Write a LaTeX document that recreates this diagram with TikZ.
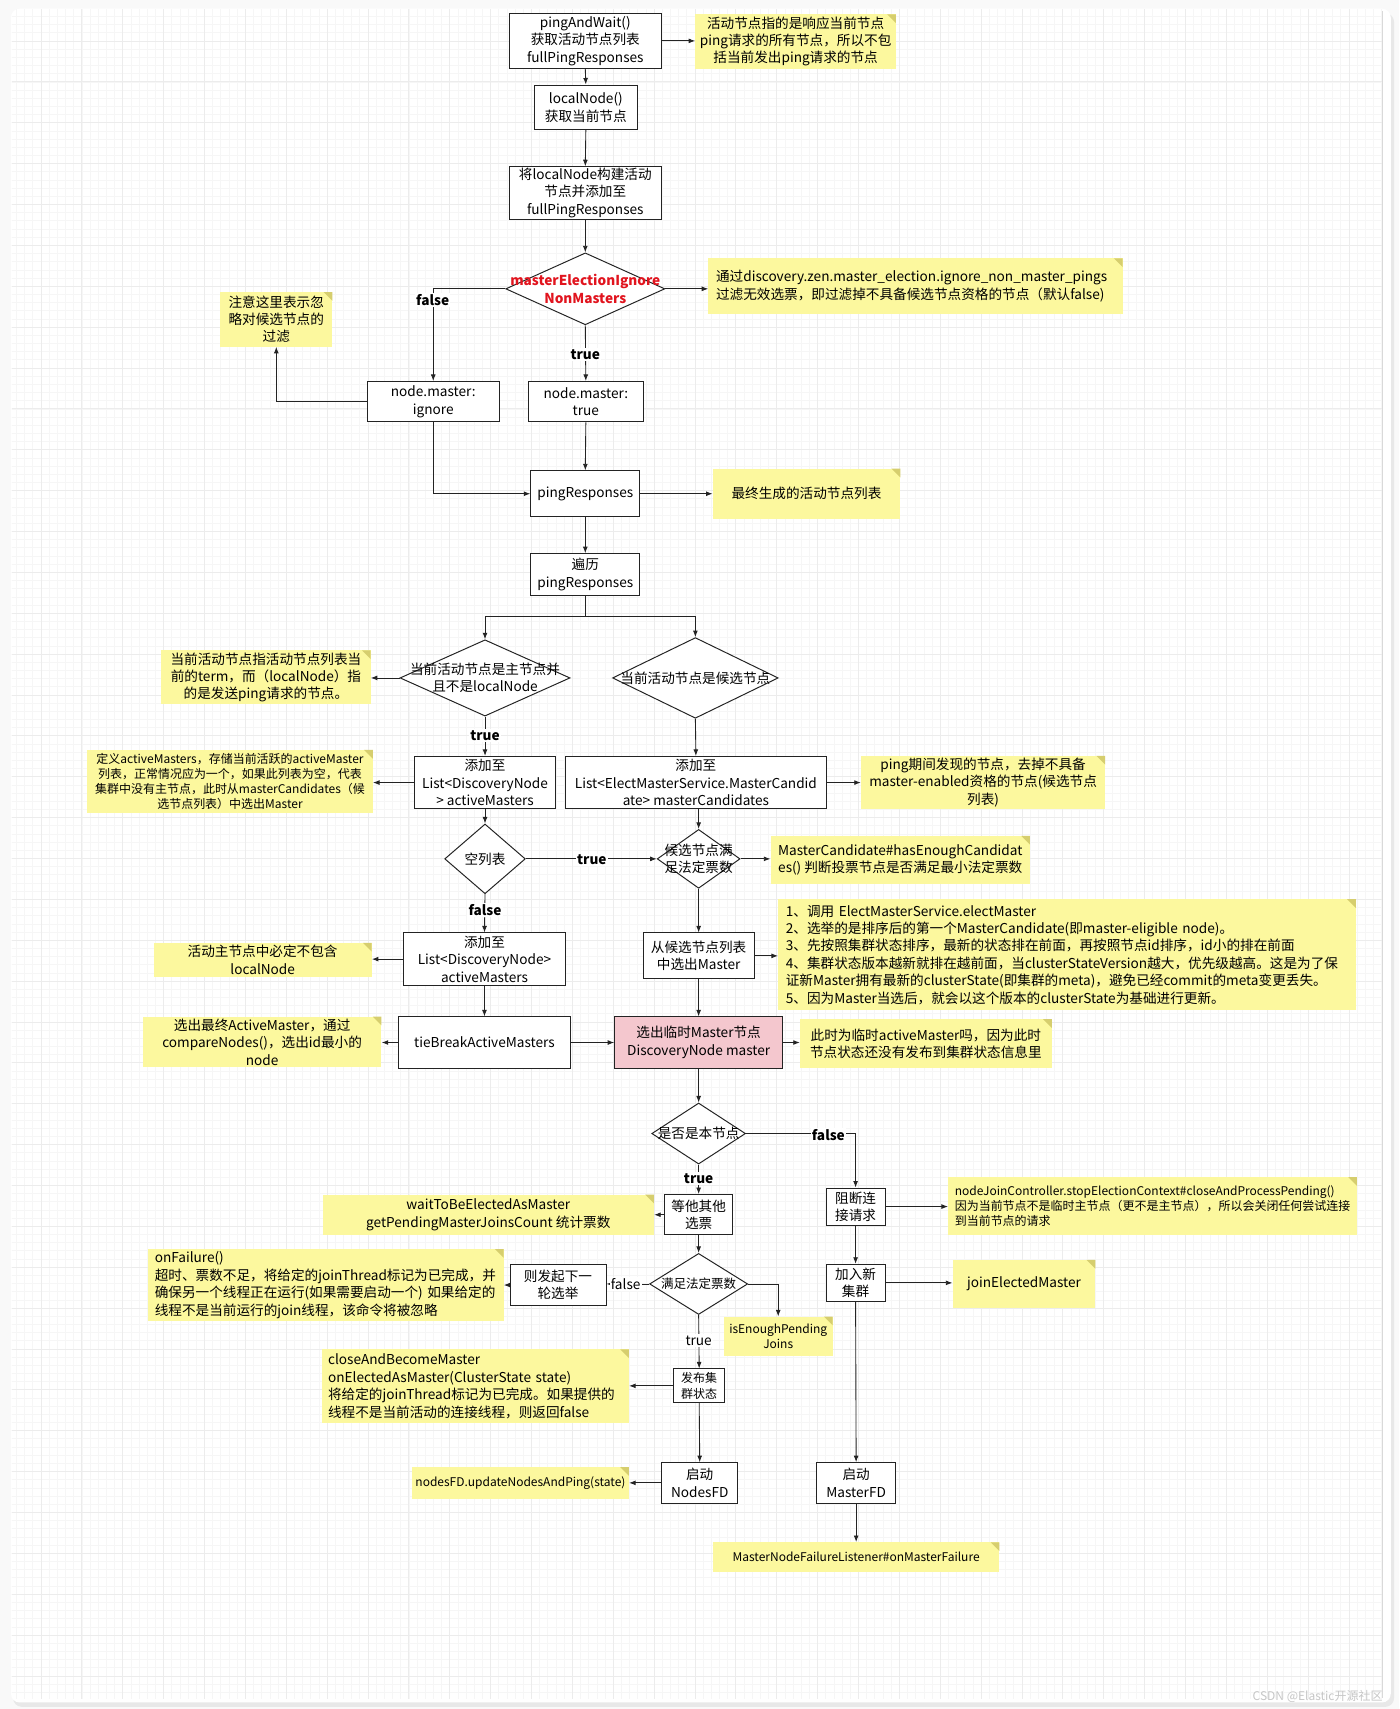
\documentclass[tikz,border=0pt]{standalone}
\usepackage{fontspec}
\setmainfont{Noto Sans CJK SC}
\usetikzlibrary{arrows.meta,shapes.geometric,calc}
\definecolor{noteY}{RGB}{252,248,158}
\definecolor{foldY}{RGB}{214,206,110}
\definecolor{pinkF}{RGB}{244,199,206}
\definecolor{redT}{RGB}{225,20,30}
\definecolor{lineC}{RGB}{35,35,35}
\newcommand\fa{\fontsize{12.5}{16}\selectfont}
\newcommand\fb{\fontsize{11}{14}\selectfont}
\tikzset{
  box/.style={draw=lineC, line width=0.9pt, fill=white, align=center, font=\fa, inner sep=1pt},
  note/.style={fill=noteY, align=center, font=\fa, inner sep=2pt,
    path picture={\fill[foldY] ([xshift=-8pt]path picture bounding box.north east) -- (path picture bounding box.north east) -- ([yshift=-8pt]path picture bounding box.north east) -- cycle;}},
  dia/.style={draw=lineC, line width=0.9pt, fill=white, diamond, inner sep=0pt},
  dtext/.style={font=\fa, align=center, inner sep=0pt},
  arr/.style={-{Latex[length=6pt,width=4.5pt]}, line width=0.8pt, draw=lineC},
  ln/.style={line width=0.8pt, draw=lineC},
  lab/.style={fill=white, inner sep=1.2pt, font=\fontsize{12.5}{14}\selectfont\bfseries},
  labn/.style={fill=white, inner sep=1.2pt, font=\fontsize{12.5}{14}\selectfont},
}
\begin{document}
\begin{tikzpicture}[x=1pt,y=-1pt]
\useasboundingbox (0,0) rectangle (1284,1568);
% background card
\fill[gray!5] (0,0) rectangle (1284,1568);
\fill[gray!18, rounded corners=8pt] (12,12) rectangle (1279,1566);
\fill[white, rounded corners=8pt] (10,8) rectangle (1276,1562);
\begin{scope}
\clip (11,9) rectangle (1268,1558);
\draw[gray!7, line width=0.4pt, step=7.5pt] (10,8) grid (1276,1562);
\draw[gray!15, line width=0.5pt, step=37.5pt] (10,8) grid (1276,1562);
\end{scope}
\draw[gray!30, line width=0.6pt] (1268,10) -- (1268,1558);

% ---------- nodes ----------
\node[box, minimum width=140pt, minimum height=51pt] (b1) at (537,37.5) {pingAndWait()\\获取活动节点列表\\fullPingResponses};
\node[note, minimum width=184pt, minimum height=48pt] (n1) at (730,38) {活动节点指的是响应当前节点\\ping请求的所有节点，所以不包\\括当前发出ping请求的节点};
\node[box, minimum width=95pt, minimum height=41pt] (b2) at (537.5,98.5) {localNode()\\获取当前节点};
\node[box, minimum width=140pt, minimum height=48pt] (b3) at (537,177) {将localNode构建活动\\节点并添加至\\fullPingResponses};
\node[dia, minimum width=146pt, minimum height=66pt] (d1) at (537,265) {};
\node[dtext, text=redT, font=\fa\bfseries] (d1t) at (537,265) {masterElectionIgnore\\NonMasters};
\node[note, minimum width=380pt, minimum height=51pt, text width=366pt, align=left] (n2) at (840,262.5) {通过discovery.zen.master\_election.ignore\_non\_master\_pings\\过滤无效选票，即过滤掉不具备候选节点资格的节点（默认false)};
\node[note, minimum width=103pt, minimum height=50pt] (n3) at (253.5,293) {注意这里表示忽\\略对候选节点的\\过滤};
\node[box, minimum width=121pt, minimum height=37pt] (b4) at (397.5,368.5) {node.master:\\ignore};
\node[box, minimum width=105pt, minimum height=37pt] (b5) at (537.5,368.5) {node.master:\\true};
\node[box, minimum width=100pt, minimum height=42pt] (b6) at (537,453) {pingResponses};
\node[note, minimum width=172pt, minimum height=46pt] (n4) at (740,453) {最终生成的活动节点列表};
\node[box, minimum width=100pt, minimum height=38pt] (b7) at (537,527) {遍历\\pingResponses};
\node[dia, minimum width=156pt, minimum height=70pt] (d2) at (445,622) {};
\node[dtext] (d2t) at (445,622) {当前活动节点是主节点并\\且不是localNode};
\node[dia, minimum width=152pt, minimum height=74pt] (d3) at (638,622) {};
\node[dtext] (d3t) at (638,622) {当前活动节点是候选节点};
\node[note, minimum width=192pt, minimum height=49pt] (n5) at (244,621.5) {当前活动节点指活动节点列表当\\前的term，而（localNode）指\\的是发送ping请求的节点。};
\node[box, minimum width=130pt, minimum height=48pt] (b8) at (445,718) {添加至\\List<DiscoveryNode\\> activeMasters};
\node[box, minimum width=239pt, minimum height=48pt] (b9) at (638.5,718) {添加至\\List<ElectMasterService.MasterCandid\\ate> masterCandidates};
\node[note, font=\fb, minimum width=262pt, minimum height=58pt] (n6) at (211,717) {定义activeMasters，存储当前活跃的activeMaster\\列表，正常情况应为一个，如果此列表为空，代表\\集群中没有主节点，此时从masterCandidates（候\\选节点列表）中选出Master};
\node[note, minimum width=224pt, minimum height=48pt] (n7) at (902,718) {ping期间发现的节点，去掉不具备\\master-enabled资格的节点(候选节点\\列表)};
\node[dia, minimum width=74pt, minimum height=64pt] (d4) at (445,788) {};
\node[dtext] (d4t) at (445,788) {空列表};
\node[dia, minimum width=76pt, minimum height=54pt] (d5) at (641,788) {};
\node[dtext] (d5t) at (641,788) {候选节点满\\足法定票数};
\node[note, minimum width=238pt, minimum height=44pt] (n8) at (826,789) {MasterCandidate\#hasEnoughCandidat\\es() 判断投票节点是否满足最小法定票数};
\node[box, minimum width=149pt, minimum height=48pt] (b10) at (444.5,880) {添加至\\List<DiscoveryNode>\\activeMasters};
\node[note, minimum width=200pt, minimum height=31pt] (n9) at (241,880.5) {活动主节点中必定不包含\\localNode};
\node[box, minimum width=102pt, minimum height=42pt] (b11) at (641,877) {从候选节点列表\\中选出Master};
\node[note, minimum width=530pt, minimum height=102pt, text width=516pt, align=left] (n10) at (979,876) {1、调用 ElectMasterService.electMaster\\2、选举的是排序后的第一个MasterCandidate(即master-eligible node)。\\3、先按照集群状态排序，最新的状态排在前面，再按照节点id排序，id小的排在前面\\4、集群状态版本越新就排在越前面，当clusterStateVersion越大，优先级越高。这是为了保\\证新Master拥有最新的clusterState(即集群的meta)，避免已经commit的meta变更丢失。\\5、因为Master当选后，就会以这个版本的clusterState为基础进行更新。};
\node[box, minimum width=157pt, minimum height=47pt] (b12) at (444.5,956.5) {tieBreakActiveMasters};
\node[note, minimum width=219pt, minimum height=46pt] (n11) at (240.5,956) {选出最终ActiveMaster，通过\\compareNodes()，选出id最小的\\node};
\node[box, fill=pinkF, minimum width=154pt, minimum height=47pt] (b13) at (641,956.5) {选出临时Master节点\\DiscoveryNode master};
\node[note, minimum width=231pt, minimum height=45pt] (n12) at (849.5,957.5) {此时为临时activeMaster吗，因为此时\\节点状态还没有发布到集群状态信息里};
\node[dia, minimum width=86pt, minimum height=56pt] (d6) at (641,1040) {};
\node[dtext] (d6t) at (641,1040) {是否是本节点};
\node[box, minimum width=54pt, minimum height=34pt] (b14) at (785,1107) {阻断连\\接请求};
\node[note, font=\fb, minimum width=375pt, minimum height=53pt, text width=363pt, align=left] (n13) at (1057.5,1106.5) {nodeJoinController.stopElectionContext\#closeAndProcessPending()\\因为当前节点不是临时主节点（更不是主节点），所以会关闭任何尝试连接\\到当前节点的请求};
\node[box, minimum width=54pt, minimum height=34pt] (b15) at (785,1177) {加入新\\集群};
\node[note, minimum width=131pt, minimum height=44pt] (n14) at (939.5,1178) {joinElectedMaster};
\node[box, minimum width=73pt, minimum height=37pt] (b16) at (785.5,1360.5) {启动\\MasterFD};
\node[note, font=\fb, minimum width=263pt, minimum height=27pt] (n15) at (785.5,1428.5) {MasterNodeFailureListener\#onMasterFailure};
\node[box, minimum width=62pt, minimum height=37pt] (b17) at (641,1114.5) {等他其他\\选票};
\node[note, minimum width=304pt, minimum height=37pt] (n16) at (448,1114.5) {waitToBeElectedAsMaster\\getPendingMasterJoinsCount 统计票数};
\node[dia, minimum width=90pt, minimum height=56pt] (d7) at (641,1178) {};
\node[dtext, font=\fontsize{11.5}{14}\selectfont] (d7t) at (641,1178) {满足法定票数};
\node[box, minimum width=88pt, minimum height=38pt] (b18) at (512,1179) {则发起下一\\轮选举};
\node[note, minimum width=326pt, minimum height=66pt, text width=314pt, align=left] (n17) at (299,1179) {onFailure()\\超时、票数不足，将给定的joinThread标记为已完成，并\\确保另一个线程正在运行(如果需要启动一个) 如果给定的\\线程不是当前运行的join线程，该命令将被忽略};
\node[note, font=\fb, minimum width=100pt, minimum height=36pt] (n18) at (714,1226) {isEnoughPending\\Joins};
\node[box, font=\fb, minimum width=47pt, minimum height=31pt] (b19) at (641.5,1271.5) {发布集\\群状态};
\node[note, minimum width=282pt, minimum height=68pt, text width=270pt, align=left] (n19) at (436,1272) {closeAndBecomeMaster\\onElectedAsMaster(ClusterState state)\\将给定的joinThread标记为已完成。如果提供的\\线程不是当前活动的连接线程，则返回false};
\node[box, minimum width=70pt, minimum height=37pt] (b20) at (642,1360.5) {启动\\NodesFD};
\node[note, font=\fb, minimum width=199pt, minimum height=29pt] (n20) at (477.5,1360.5) {nodesFD.updateNodesAndPing(state)};
\node[text=gray!45, font=\fb, anchor=south east] (wm) at (1272,1566) {CSDN @Elastic开源社区};

% ---------- connectors ----------
\draw[arr] (b1.east) -- (b1.east -| n1.west);
\draw[arr] (b1.south) -- (b2.north);
\draw[arr] (b2.south) -- (b3.north);
\draw[arr] (b3.south) -- (d1.north);
\draw[arr] (d1.east) -- (d1.east -| n2.west);
\draw[arr] (d1.west) -| (b4.north);
\node[lab] (lf1) at (397,275) {false};
\draw[arr] (d1.south) -- (b5.north);
\node[lab] (lt1) at (537,325) {true};
\draw[arr] (b4.west) -| (n3.south);
\draw[arr] (b5.south) -- (b6.north);
\draw[arr] (b4.south) |- (b6.west);
\draw[arr] (b6.east) -- (n4.west);
\draw[arr] (b6.south) -- (b7.north);
\coordinate (sp) at (537,566);
\draw[ln] (b7.south) -- (sp);
\draw[arr] (sp) -| (d2.north);
\draw[arr] (sp) -| (d3.north);
\draw[arr] (d2.west) -- (d2.west -| n5.east);
\draw[arr] (d2.south) -- (b8.north);
\node[lab] (lt2) at (445,675) {true};
\draw[arr] (d3.south) -- (b9.north);
\draw[arr] (b8.west) -- (b8.west -| n6.east);
\draw[arr] (b9.east) -- (b9.east -| n7.west);
\draw[arr] (b8.south) -- (d4.north);
\draw[arr] (d5.north |- b9.south) -- (d5.north);
\draw[arr] (d4.east) -- (d5.west);
\node[lab] (lt3) at (543,789) {true};
\draw[arr] (d5.east) -- (d5.east -| n8.west);
\draw[arr] (d4.south) -- (b10.north);
\node[lab] (lf2) at (445,835) {false};
\draw[arr] (b10.west) -- (b10.west -| n9.east);
\draw[arr] (d5.south) -- (b11.north);
\draw[arr] (b11.east) -- (b11.east -| n10.west);
\draw[arr] (b10.south) -- (b12.north);
\draw[arr] (b12.west) -- (b12.west -| n11.east);
\draw[arr] (b12.east) -- (b13.west);
\draw[arr] (b11.south) -- (b13.north);
\draw[arr] (b13.east) -- (b13.east -| n12.west);
\draw[arr] (b13.south) -- (d6.north);
\draw[arr] (d6.east) -| (b14.north);
\node[lab] (lf3) at (760,1041) {false};
\draw[arr] (d6.south) -- (b17.north);
\node[lab] (lt4) at (641,1081) {true};
\draw[arr] (b14.east) -- (b14.east -| n13.west);
\draw[arr] (b14.south) -- (b15.north);
\draw[arr] (b15.east) -- (b15.east -| n14.west);
\draw[arr] (b15.south) -- (b16.north);
\draw[arr] (b16.south) -- (n15.north);
\draw[arr] (b17.west) -- (b17.west -| n16.east);
\draw[arr] (b17.south) -- (d7.north);
\draw[arr] (d7.west) -- (d7.west -| b18.east);
\node[labn] (lf4) at (574,1178) {false};
\draw[arr] (b18.west) -- (b18.west -| n17.east);
\draw[arr] (d7.east) -| (n18.north);
\draw[arr] (d7.south) -- (b19.north);
\node[labn] (lt5) at (641,1230) {true};
\draw[arr] (b19.west) -- (b19.west -| n19.east);
\draw[arr] (b19.south) -- (b20.north);
\draw[arr] (b20.west) -- (b20.west -| n20.east);
\end{tikzpicture}
\end{document}
